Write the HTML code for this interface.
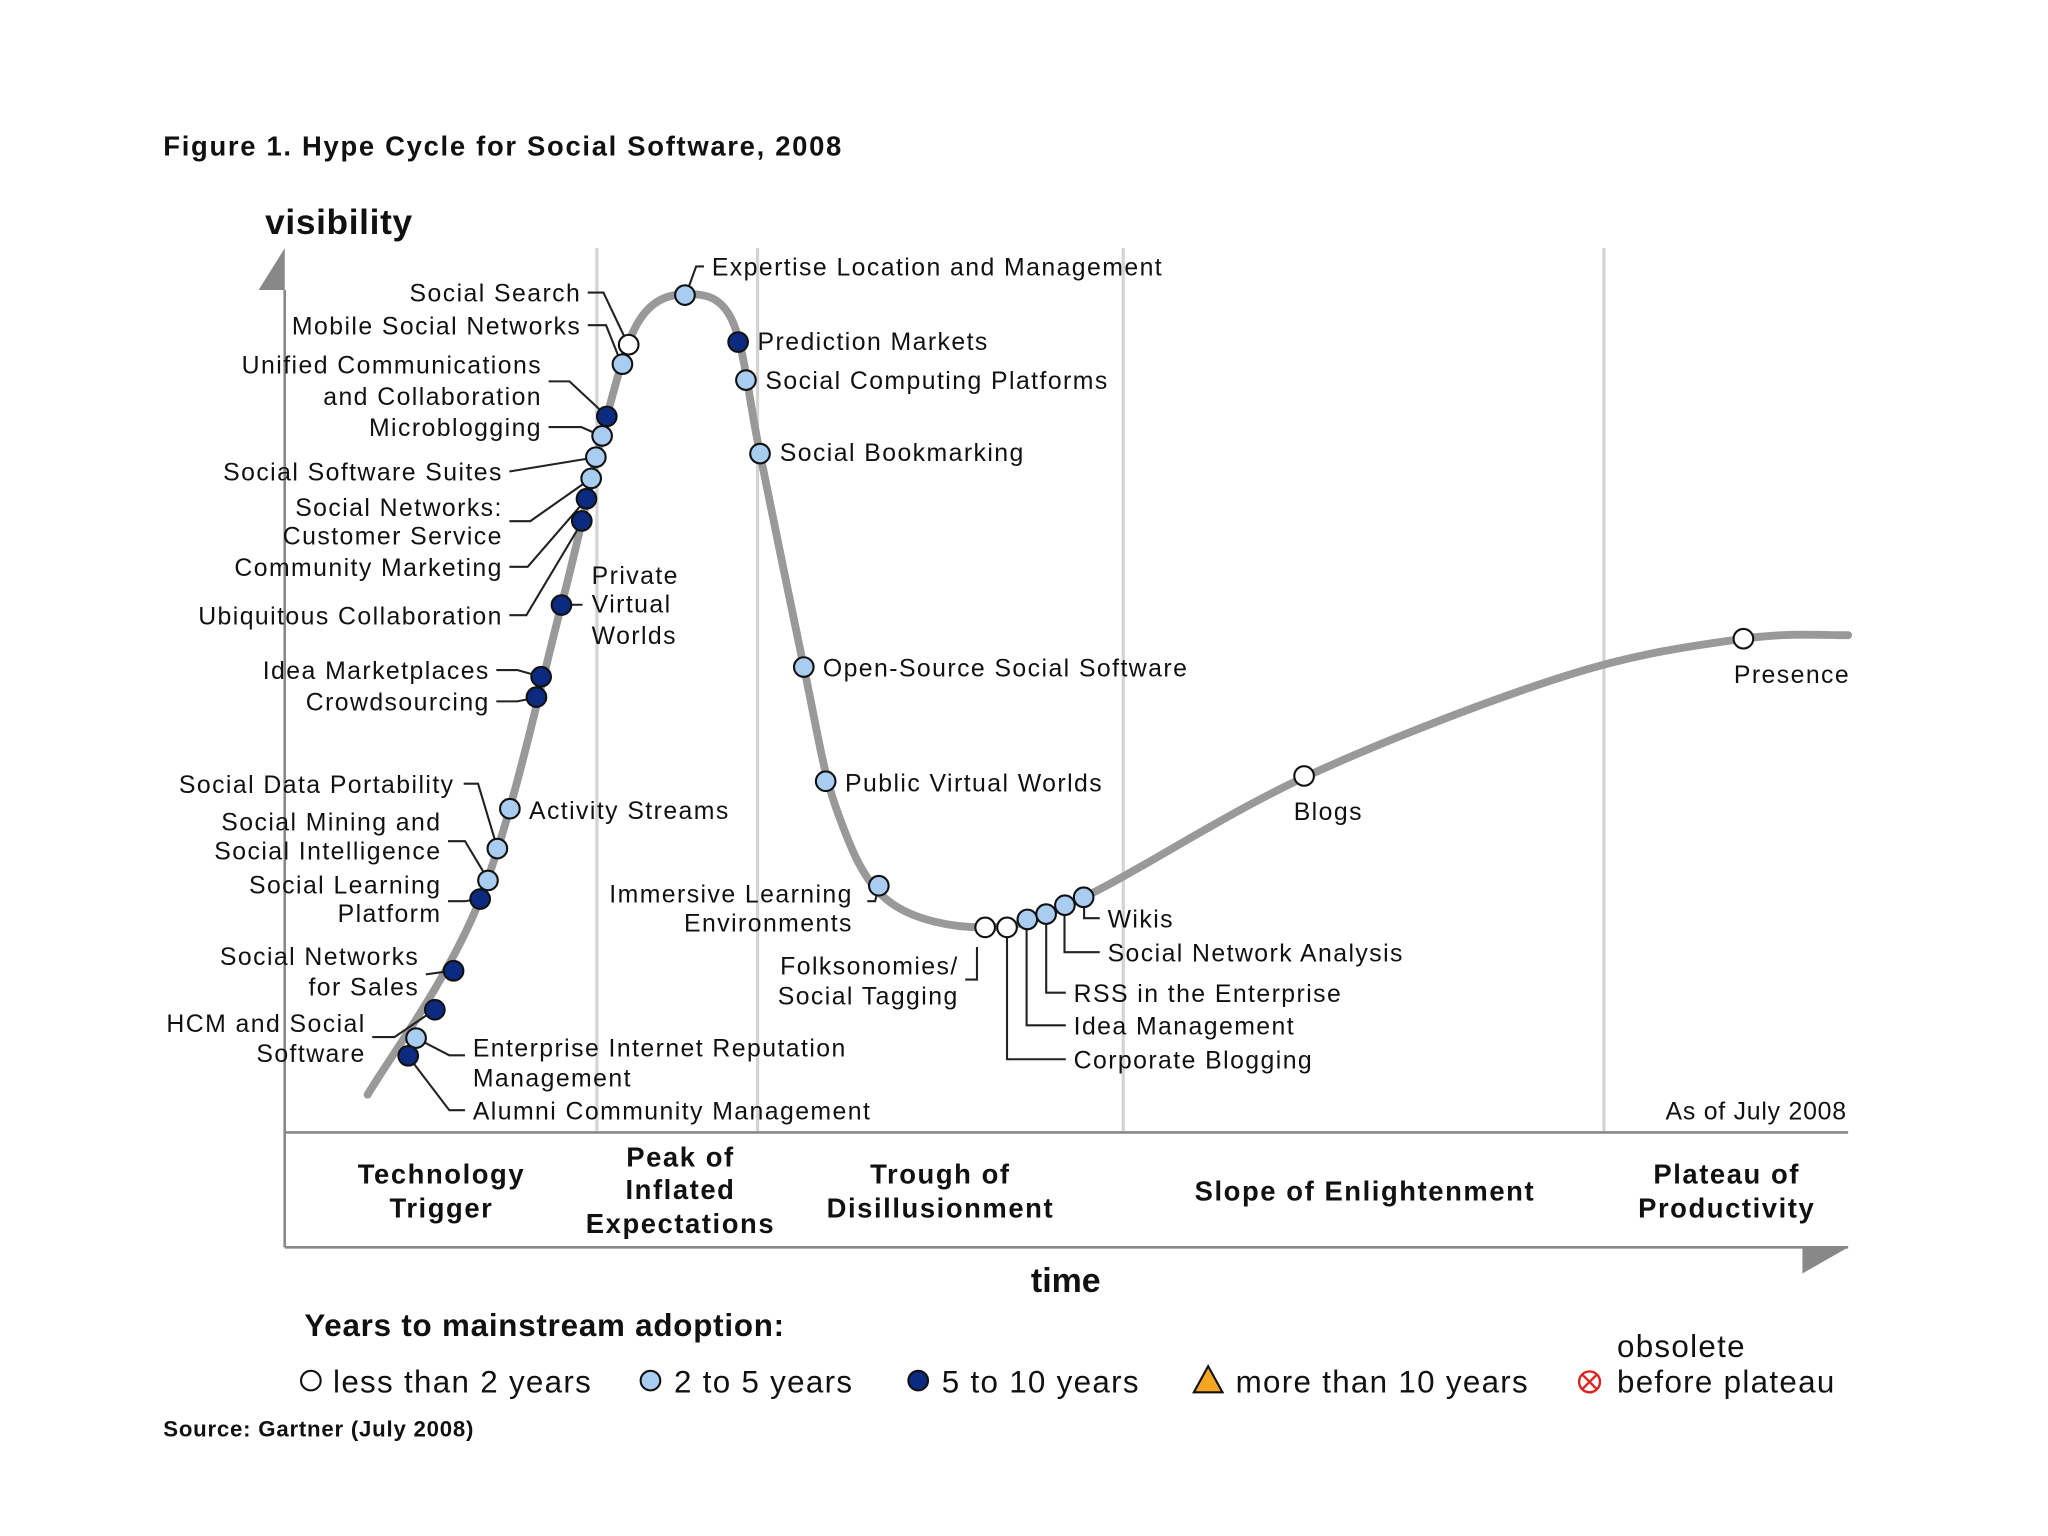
<!DOCTYPE html>
<html><head><meta charset="utf-8">
<style>
html,body{margin:0;padding:0;background:#fff;}
svg{display:block;}
text{font-family:"Liberation Sans",sans-serif;fill:#111;}
.lb text{letter-spacing:1.1px;}
</style></head>
<body>
<svg id="chart" width="2048" height="1536" viewBox="0 0 1568 1176" xmlns="http://www.w3.org/2000/svg">
<text x="125" y="119" font-size="21" font-weight="bold" letter-spacing="1.3">Figure 1. Hype Cycle for Social Software, 2008</text>
<text x="203" y="179" font-size="27" font-weight="bold" letter-spacing="0.5">visibility</text>
<g stroke="#d4d4d4" stroke-width="2.5">
<line x1="457" y1="190" x2="457" y2="866"/><line x1="580" y1="190" x2="580" y2="866"/>
<line x1="860" y1="190" x2="860" y2="866"/><line x1="1228" y1="190" x2="1228" y2="866"/>
</g>
<line x1="218" y1="222" x2="218" y2="955" stroke="#888" stroke-width="2"/>
<polygon points="198,222 218,190 218,222" fill="#888"/>
<line x1="218" y1="867" x2="1415" y2="867" stroke="#888" stroke-width="2"/>
<line x1="218" y1="955" x2="1415" y2="955" stroke="#888" stroke-width="2"/>
<polygon points="1380,955 1415,955 1380,975" fill="#888"/>
<text x="816" y="989" font-size="26" font-weight="bold" text-anchor="middle">time</text>
<text x="1414" y="857" font-size="19" letter-spacing="0.6" text-anchor="end">As of July 2008</text>
<g font-size="21" font-weight="bold" text-anchor="middle" letter-spacing="1.2">
<text x="338" y="906">Technology</text><text x="338" y="932">Trigger</text>
<text x="521" y="893">Peak of</text><text x="521" y="918">Inflated</text><text x="521" y="944">Expectations</text>
<text x="720" y="906">Trough of</text><text x="720" y="932">Disillusionment</text>
<text x="1045" y="919">Slope of Enlightenment</text>
<text x="1322" y="906">Plateau of</text><text x="1322" y="932">Productivity</text>
</g>
<path id="curve" fill="none" stroke="#999" stroke-width="6" stroke-linecap="round"/>
<g id="leaders" fill="none" stroke="#222" stroke-width="1.6"></g>
<g id="marks"></g>
<g class="lb" font-size="19">
<g text-anchor="end">
<text x="445" y="231">Social Search</text>
<text x="445" y="256">Mobile Social Networks</text>
<text x="415" y="286">Unified Communications</text><text x="415" y="310">and Collaboration</text>
<text x="415" y="334">Microblogging</text>
<text x="385" y="368">Social Software Suites</text>
<text x="385" y="395">Social Networks:</text><text x="385" y="417">Customer Service</text>
<text x="385" y="441">Community Marketing</text>
<text x="385" y="478">Ubiquitous Collaboration</text>
<text x="375" y="520">Idea Marketplaces</text>
<text x="375" y="544">Crowdsourcing</text>
<text x="348" y="607">Social Data Portability</text>
<text x="338" y="636">Social Mining and</text><text x="338" y="658">Social Intelligence</text>
<text x="338" y="684">Social Learning</text><text x="338" y="706">Platform</text>
<text x="321" y="739">Social Networks</text><text x="321" y="762">for Sales</text>
<text x="280" y="790">HCM and Social</text><text x="280" y="813">Software</text>
<text x="653" y="691">Immersive Learning</text><text x="653" y="713">Environments</text>
<text x="734" y="746">Folksonomies/</text><text x="734" y="769">Social Tagging</text>
</g>
<text x="453" y="447">Private</text><text x="453" y="469">Virtual</text><text x="453" y="493">Worlds</text>
<text x="405" y="627">Activity Streams</text>
<text x="362" y="809">Enterprise Internet Reputation</text><text x="362" y="832">Management</text>
<text x="362" y="857">Alumni Community Management</text>
<text x="545" y="211">Expertise Location and Management</text>
<text x="580" y="268">Prediction Markets</text>
<text x="586" y="298">Social Computing Platforms</text>
<text x="597" y="353">Social Bookmarking</text>
<text x="630" y="518">Open-Source Social Software</text>
<text x="647" y="606">Public Virtual Worlds</text>
<text x="848" y="710">Wikis</text>
<text x="848" y="736">Social Network Analysis</text>
<text x="822" y="767">RSS in the Enterprise</text>
<text x="822" y="792">Idea Management</text>
<text x="822" y="818">Corporate Blogging</text>
<text x="1017" y="628" text-anchor="middle">Blogs</text>
<text x="1372" y="523" text-anchor="middle">Presence</text>
</g>
<text x="233" y="1023" font-size="24" font-weight="bold" letter-spacing="0.6">Years to mainstream adoption:</text>
<g font-size="24" letter-spacing="1">
<g><circle cx="238" cy="1057" r="7.5" fill="#fff" stroke="#111" stroke-width="1.6"/><text x="255" y="1066">less than 2 years</text></g>
<g><circle cx="498" cy="1057" r="7.5" fill="#a9cdf0" stroke="#111" stroke-width="1.6"/><text x="516" y="1066">2 to 5 years</text></g>
<g><circle cx="703" cy="1057" r="7.5" fill="#0b2a80" stroke="#111" stroke-width="1.6"/><text x="721" y="1066">5 to 10 years</text></g>
<g><polygon points="925,1046 936,1066 914,1066" fill="#f5a623" stroke="#111" stroke-width="1.6"/><text x="946" y="1066">more than 10 years</text></g>
<g><circle cx="1217" cy="1058" r="8" fill="#fff" stroke="#d22" stroke-width="1.8"/><path d="M1211.5,1052.5 L1222.5,1063.5 M1222.5,1052.5 L1211.5,1063.5" stroke="#d22" stroke-width="1.8"/><text x="1238" y="1039">obsolete</text><text x="1238" y="1066">before plateau</text></g>
</g>
<text x="125" y="1100" font-size="17" font-weight="bold" letter-spacing="0.6">Source: Gartner (July 2008)</text>
</svg>
<script>
// data: time (0-100) and visibility (0-100)
const curveTime = [5.3,12.5,17.7,20.6,22.7,25.6,28.6,30.4,33.2,35.3,38.6,44.9,51.1,65.4,82.1,93.3,100];
const curveVis  = [4.4,26.5,59.7,81.0,91.9,94.8,91.9,76.8,52.7,36.6,26.3,23.3,26.7,40.4,51.8,55.9,56.3];
const techNames = ["Social Search","Mobile Social Networks","Unified Communications and Collaboration","Microblogging","Social Software Suites","Social Networks: Customer Service","Community Marketing","Ubiquitous Collaboration","Private Virtual Worlds","Idea Marketplaces","Crowdsourcing","Activity Streams","Social Data Portability","Social Mining and Social Intelligence","Social Learning Platform","Social Networks for Sales","HCM and Social Software","Enterprise Internet Reputation Management","Alumni Community Management","Expertise Location and Management","Prediction Markets","Social Computing Platforms","Social Bookmarking","Open-Source Social Software","Public Virtual Worlds","Immersive Learning Environments","Folksonomies/Social Tagging","Corporate Blogging","Idea Management","RSS in the Enterprise","Social Network Analysis","Wikis","Blogs","Presence"];
const techTime = [22.0,21.6,20.6,20.3,19.9,19.6,19.3,19.0,17.7,16.4,16.1,14.4,13.6,13.0,12.5,10.8,9.6,8.4,7.9,25.6,29.0,29.5,30.4,33.2,34.6,38.0,44.8,46.2,47.5,48.7,49.9,51.1,65.2,93.3];
const techVis  = [89.1,86.9,81.0,78.8,76.4,74.0,71.7,69.2,59.7,51.6,49.3,36.7,32.2,28.6,26.5,18.4,14.0,10.8,8.8,94.7,89.4,85.1,76.8,52.7,39.8,28.0,23.3,23.3,24.2,24.8,25.8,26.7,40.4,55.9];
const techClass = [0,1,2,1,1,1,2,2,2,2,2,1,1,1,2,2,2,1,2,1,2,1,1,1,1,1,0,0,1,1,1,1,0,0];
const classFill = ["#fff","#a9cdf0","#0b2a80"];
const leaderPaths = [
 "M450,224 H462 L481,264","M450,249 H464 L476,279","M420,292 H436 L465,319","M420,327 H445 L461,334",
 "M390,361 L457,350","M390,399 H406 L453,366","M390,434 H404 L449,382","M390,471 H403 L446,399",
 "M446,463 H430","M380,513 H396 L414,518","M380,537 H396 L411,534","M355,600 H366 L381,650",
 "M343,644 H356 L374,674","M343,690 H356 L368,688","M326,746 L348,743","M285,794 H302 L333,773",
 "M356,808 H344 L319,795","M356,850 H344 L312,808","M539,204 H533 L525,226","M664,690 H670 L673,678",
 "M739,750 H748 V725","M816,811 H771 V718","M816,785 H786 V712","M816,760 H801 V708","M842,729 H815 V701","M842,703 H830 V695"
];
const X0=218,X1=1415,Y0=868,Y1=190;
function xs(t){return X0+t*(X1-X0)/100;}
function ys(v){return Y0-v*(Y0-Y1)/100;}
const NS="http://www.w3.org/2000/svg";
const pts=curveTime.map((t,i)=>[xs(t),ys(curveVis[i])]);
let d="M"+pts[0][0]+","+pts[0][1];
for(let i=0;i<pts.length-1;i++){
 const p0=pts[Math.max(0,i-1)],p1=pts[i],p2=pts[i+1],p3=pts[Math.min(pts.length-1,i+2)];
 const c1=[p1[0]+(p2[0]-p0[0])/6,p1[1]+(p2[1]-p0[1])/6];
 const c2=[p2[0]-(p3[0]-p1[0])/6,p2[1]-(p3[1]-p1[1])/6];
 d+=" C"+c1[0]+","+c1[1]+" "+c2[0]+","+c2[1]+" "+p2[0]+","+p2[1];
}
document.getElementById("curve").setAttribute("d",d);
const lg=document.getElementById("leaders");
leaderPaths.forEach(p=>{const e=document.createElementNS(NS,"path");e.setAttribute("d",p);


lg.appendChild(e);});
const mg=document.getElementById("marks");
techNames.forEach((n,i)=>{
 const c=document.createElementNS(NS,"circle");
 c.setAttribute("cx",xs(techTime[i]));c.setAttribute("cy",ys(techVis[i]));c.setAttribute("r",7.5);
 c.setAttribute("fill",classFill[techClass[i]]);c.setAttribute("stroke","#111");c.setAttribute("stroke-width",1.6);
 
 
 const t=document.createElementNS(NS,"title");t.textContent=n;c.appendChild(t);
 mg.appendChild(c);
});
</script>
</body></html>
